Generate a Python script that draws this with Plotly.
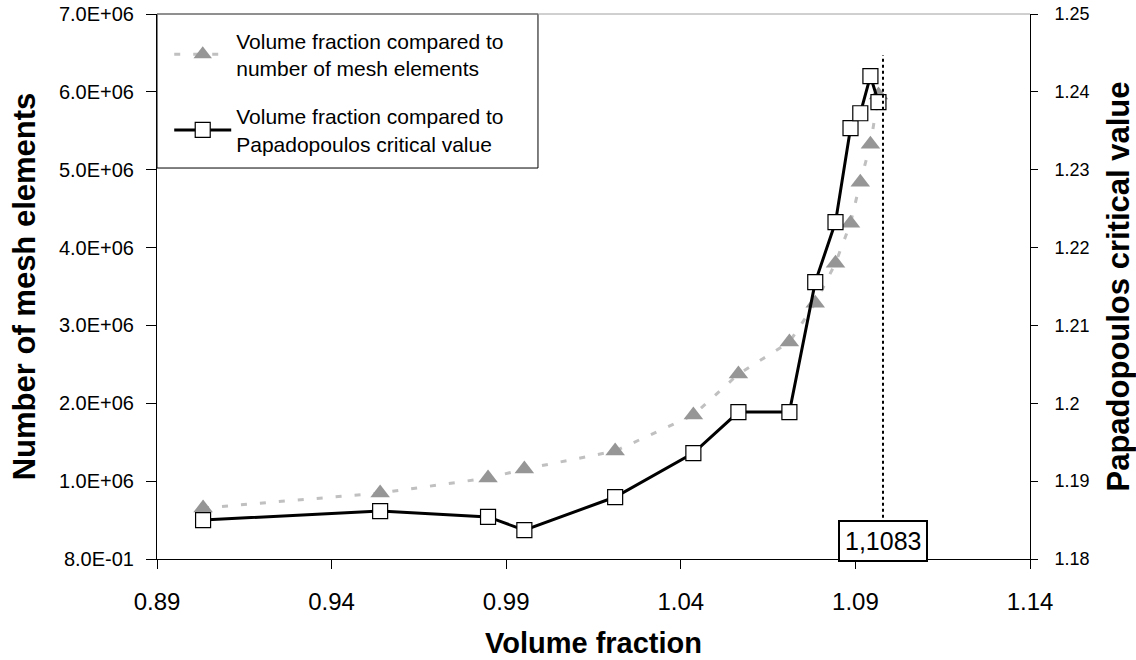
import plotly.graph_objects as go

# ---- data ----
volume_fraction = [0.9032, 0.9539, 0.9848, 0.9952, 1.0212, 1.0436, 1.0565,
                   1.0711, 1.0785, 1.0843, 1.0886, 1.0914, 1.0943, 1.0966]
mesh_elements = [0.655e6, 0.847e6, 1.04e6, 1.155e6, 1.386e6, 1.85e6, 2.375e6,
                 2.786e6, 3.286e6, 3.80e6, 4.313e6, 4.84e6, 5.327e6, 5.96e6]
papadopoulos = [1.1850, 1.18616, 1.1854, 1.1837, 1.18796, 1.19361, 1.19887,
                1.19887, 1.21556, 1.22326, 1.23533, 1.23725, 1.24202, 1.23867]

# marker line drawn in the reference (its position on the axis) and its label
critical_line_x = 1.0979
critical_label = "1,1083"

x_ticks = [0.89, 0.94, 0.99, 1.04, 1.09, 1.14]
y_left_ticks = [0, 1e6, 2e6, 3e6, 4e6, 5e6, 6e6, 7e6]
y_left_labels = ["8.0E-01", "1.0E+06", "2.0E+06", "3.0E+06", "4.0E+06",
                 "5.0E+06", "6.0E+06", "7.0E+06"]
y_right_ticks = [1.18, 1.19, 1.20, 1.21, 1.22, 1.23, 1.24, 1.25]
y_right_labels = ["1.18", "1.19", "1.2", "1.21", "1.22", "1.23", "1.24", "1.25"]

FONT = "Liberation Sans, Arial, sans-serif"
PAD = "\u00a0\u00a0"  # small gap between right-axis ticks and their labels

fig = go.Figure()

fig.add_trace(go.Scatter(
    x=volume_fraction, y=mesh_elements, yaxis="y",
    name="Volume fraction compared to<br>number of mesh elements",
    mode="lines+markers", legendgroup="a",
    line=dict(color="#c0c0c0", width=3, dash="6px,13px"),
    marker=dict(symbol="triangle-up", size=17, color="#969696",
                line=dict(width=0)),
))

fig.add_trace(go.Scatter(
    x=volume_fraction, y=papadopoulos, yaxis="y2",
    name="Volume fraction compared to<br>Papadopoulos critical value",
    mode="lines+markers", legendgroup="b",
    line=dict(color="black", width=3),
    marker=dict(symbol="square", size=15, color="white",
                line=dict(color="black", width=1.2)),
))

fig.update_layout(
    width=1136, height=660,
    margin=dict(l=157, r=106, t=14, b=101, autoexpand=False),
    paper_bgcolor="white", plot_bgcolor="white",
    font=dict(family=FONT, color="black"),
    showlegend=True,
    legend=dict(
        x=0.014, y=1, xanchor="left", yanchor="top",
        borderwidth=0, bgcolor="rgba(0,0,0,0)",
        font=dict(size=21, family=FONT, color="black"),
        itemwidth=57, tracegroupgap=18,
        title=dict(text=" ", font=dict(size=5)),
    ),
    xaxis=dict(
        range=[0.89, 1.14], tickvals=x_ticks, tickformat=".2f",
        showgrid=False, zeroline=False, automargin=False,
        showline=True, linecolor="black", linewidth=1,
        ticks="outside", ticklen=9, tickcolor="black",
        tickfont=dict(size=24), ticklabelstandoff=12,
        title=dict(text="<b>Volume fraction</b>", font=dict(size=29), standoff=18),
    ),
    yaxis=dict(
        range=[0, 7e6], tickvals=y_left_ticks, ticktext=y_left_labels,
        showgrid=False, zeroline=False, automargin=False,
        showline=True, linecolor="black", linewidth=1,
        ticks="outside", ticklen=10, tickcolor="black",
        tickfont=dict(size=20), ticklabelstandoff=8,
        ticklabeloverflow="allow",
        title=dict(text="<b>Number of mesh elements</b>", font=dict(size=31), standoff=14),
    ),
    yaxis2=dict(
        range=[1.18, 1.25], tickvals=y_right_ticks,
        ticktext=[PAD + t for t in y_right_labels],
        overlaying="y", side="right", anchor="x",
        showgrid=False, zeroline=False, automargin=False,
        showline=True, linecolor="black", linewidth=1,
        ticks="outside", ticklen=7, tickcolor="black",
        tickfont=dict(size=18), ticklabelstandoff=3,
        ticklabeloverflow="allow",
        title=dict(text="<b>Papadopoulos critical value</b>", font=dict(size=31), standoff=20),
    ),
    yaxis3=dict(
        range=[1.18, 1.25], tickvals=y_right_ticks,
        overlaying="y", side="right", anchor="x",
        showgrid=False, zeroline=False, showline=False, automargin=False,
        ticks="inside", ticklen=8, tickcolor="black",
        showticklabels=False,
    ),
)

# top border of the plot area (grey)
fig.add_shape(type="line", xref="paper", yref="paper", x0=0, x1=1, y0=1, y1=1,
              line=dict(color="#a0a0a0", width=1))

# legend frame
fig.add_shape(type="rect", xref="paper", yref="paper",
              x0=0, x1=0.4364, y0=0.7174, y1=1, layer="below",
              line=dict(color="black", width=1), fillcolor="white")

# dotted vertical line
fig.add_shape(type="line", xref="x", yref="y",
              x0=critical_line_x, x1=critical_line_x, y0=0.3e6, y1=6.47e6,
              line=dict(color="black", width=2, dash="dot"))

fig.add_annotation(
    x=critical_line_x, y=0.231e6, xref="x", yref="y",
    text=critical_label, showarrow=False,
    font=dict(size=25, family=FONT, color="black"),
    bgcolor="white", bordercolor="black", borderwidth=2, borderpad=5,
)

# remove the browser's default page margin so the figure fills the window
fig.write_html("out.html",
               config={"displayModeBar": False},
               post_script="document.body.style.margin='0';")
